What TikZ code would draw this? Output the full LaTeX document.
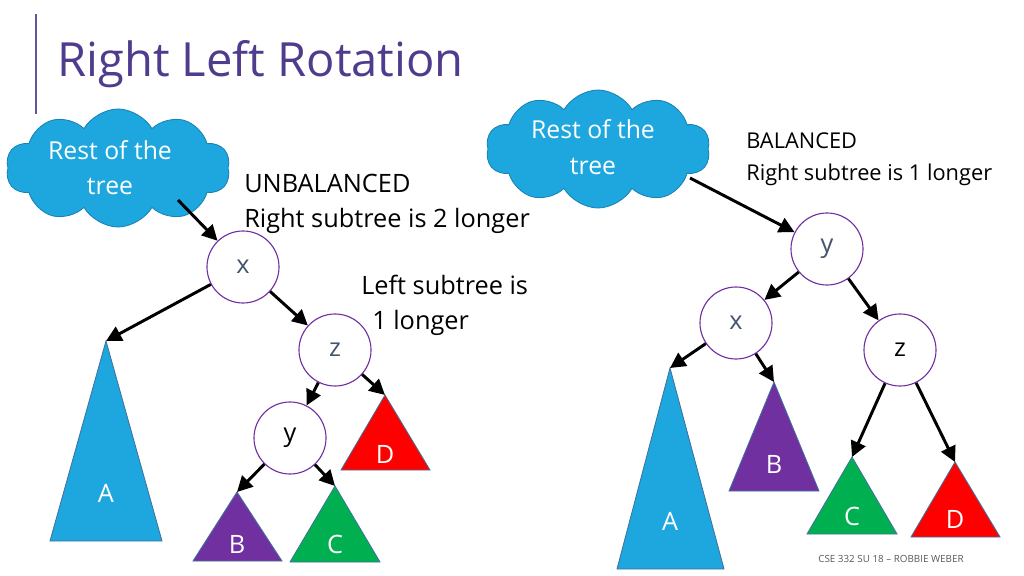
\documentclass[tikz,border=0pt]{standalone}
\usepackage{fontspec}
\setmainfont{Open Sans}
\usetikzlibrary{arrows.meta,shapes.symbols}
\definecolor{titlepurple}{RGB}{80,60,140}
\definecolor{barpurple}{RGB}{100,85,150}
\definecolor{cloudblue}{RGB}{30,167,222}
\definecolor{cloudedge}{RGB}{25,130,180}
\definecolor{nodepurple}{RGB}{112,48,160}
\definecolor{slate}{RGB}{68,84,106}
\definecolor{treegreen}{RGB}{0,176,80}
\definecolor{treered}{RGB}{255,0,0}
\definecolor{treepurple}{RGB}{112,48,160}
\definecolor{triedge}{RGB}{65,113,156}
\definecolor{footgray}{RGB}{89,89,89}
\newcommand\myfs[1]{\fontsize{#1}{#1}\selectfont}
\tikzset{
  treenode/.style={circle,draw=nodepurple,line width=0.8pt,fill=white,minimum size=1.8cm,inner sep=0pt,font=\myfs{18}},
  arr/.style={line width=2.1pt,-{Triangle[length=11pt,width=11pt]}},
  cloudbox/.style={cloud,cloud puffs=10,cloud puff arc=120,cloud ignores aspect,fill=cloudblue,draw=cloudedge,line width=0.6pt,minimum width=5.6cm,minimum height=2.95cm,inner sep=0pt},
  cloudtxt/.style={text=white,font=\myfs{17.6},anchor=base,inner sep=0pt},
  bodytxt/.style={font=\myfs{18},anchor=base west,inner sep=0pt},
  smalltxt/.style={font=\myfs{15.5},anchor=base west,inner sep=0pt},
  tri/.style={draw=triedge,line width=0.6pt},
  trilbl/.style={text=white,font=\myfs{18},anchor=base,inner sep=0pt},
}
\begin{document}
\begin{tikzpicture}[x=0.025cm,y=-0.025cm]
\useasboundingbox (0,0) rectangle (1024,576);
% title
\draw[barpurple,line width=1.2pt] (36,14) coordinate (bartop) -- (36,114) coordinate (barbot);
\node[anchor=base west,inner sep=0pt,text=titlepurple,font=\myfs{33.5}] (title) at (57,77) {Right Left Rotation};

% ---------- left ----------
\node[cloudbox] (cloudL) at (118,168) {};
\node[cloudtxt] (cloudLa) at (110,160) {Rest of the};
\node[cloudtxt] (cloudLb) at (110,195) {tree};
\node[bodytxt] (unbal) at (244,193) {UNBALANCED};
\node[bodytxt] (unbal2) at (244,228) {Right subtree is 2 longer};
\node[bodytxt] (lsub) at (361,295) {Left subtree is};
\node[bodytxt] (lsub2) at (372,330) {1 longer};

\node[treenode,text=slate] (lx) at (243,267) {x};
\node[treenode,text=slate] (lz) at (335,350) {z};
\node[treenode,text=black] (ly) at (290,438) {y};

\coordinate (lA) at (106,341);
\coordinate (lB) at (237,492);
\coordinate (lC) at (335,486);
\coordinate (lD) at (385,395);
\filldraw[tri,fill=cloudblue] (lA) -- (50,541) -- (162,541) -- cycle;
\filldraw[tri,fill=treepurple] (lB) -- (193,561) -- (282,561) -- cycle;
\filldraw[tri,fill=treegreen] (lC) -- (290,562) -- (380,562) -- cycle;
\filldraw[tri,fill=treered] (lD) -- (341,470) -- (430,470) -- cycle;
\node[trilbl] (lAl) at (106,502) {A};
\node[trilbl] (lBl) at (237,553) {B};
\node[trilbl] (lCl) at (335,553) {C};
\node[trilbl] (lDl) at (385,463) {D};

\coordinate (cLs) at (178,200);
\draw[arr] (cLs) -- (lx);
\draw[arr] (lx) -- (lA);
\draw[arr] (lx) -- (lz);
\draw[arr] (lz) -- (ly);
\draw[arr] (lz) -- (lD);
\draw[arr] (ly) -- (lB);
\draw[arr] (ly) -- (lC);

% ---------- right ----------
\node[cloudbox] (cloudR) at (598,149) {};
\node[cloudtxt] (cloudRa) at (593,139) {Rest of the};
\node[cloudtxt] (cloudRb) at (593,175) {tree};
\node[smalltxt] (bal) at (746,149) {BALANCED};
\node[smalltxt] (bal2) at (746,181) {Right subtree is 1 longer};

\node[treenode,text=slate] (ry) at (827,249) {y};
\node[treenode,text=slate] (rx) at (736,323) {x};
\node[treenode,text=black] (rz) at (900,350) {z};

\coordinate (rA) at (670,368);
\coordinate (rB) at (774,382);
\coordinate (rC) at (852,457);
\coordinate (rD) at (955,462);
\filldraw[tri,fill=cloudblue] (rA) -- (617,569) -- (724,569) -- cycle;
\filldraw[tri,fill=treepurple] (rB) -- (729,491) -- (819,491) -- cycle;
\filldraw[tri,fill=treegreen] (rC) -- (807,534) -- (897,534) -- cycle;
\filldraw[tri,fill=treered] (rD) -- (911,537) -- (1000,537) -- cycle;
\node[trilbl] (rAl) at (670,530) {A};
\node[trilbl] (rBl) at (774,473) {B};
\node[trilbl] (rCl) at (852,525) {C};
\node[trilbl] (rDl) at (955,528) {D};

\coordinate (cRs) at (690,178);
\draw[arr] (cRs) -- (ry);
\draw[arr] (ry) -- (rx);
\draw[arr] (ry) -- (rz);
\draw[arr] (rx) -- (rA);
\draw[arr] (rx) -- (rB);
\draw[arr] (rz) -- (rC);
\draw[arr] (rz) -- (rD);

\node[anchor=base west,inner sep=0pt,text=footgray,font=\myfs{7}] (foot) at (818,562) {CSE 332 SU 18 – ROBBIE WEBER};
\end{tikzpicture}
\end{document}
